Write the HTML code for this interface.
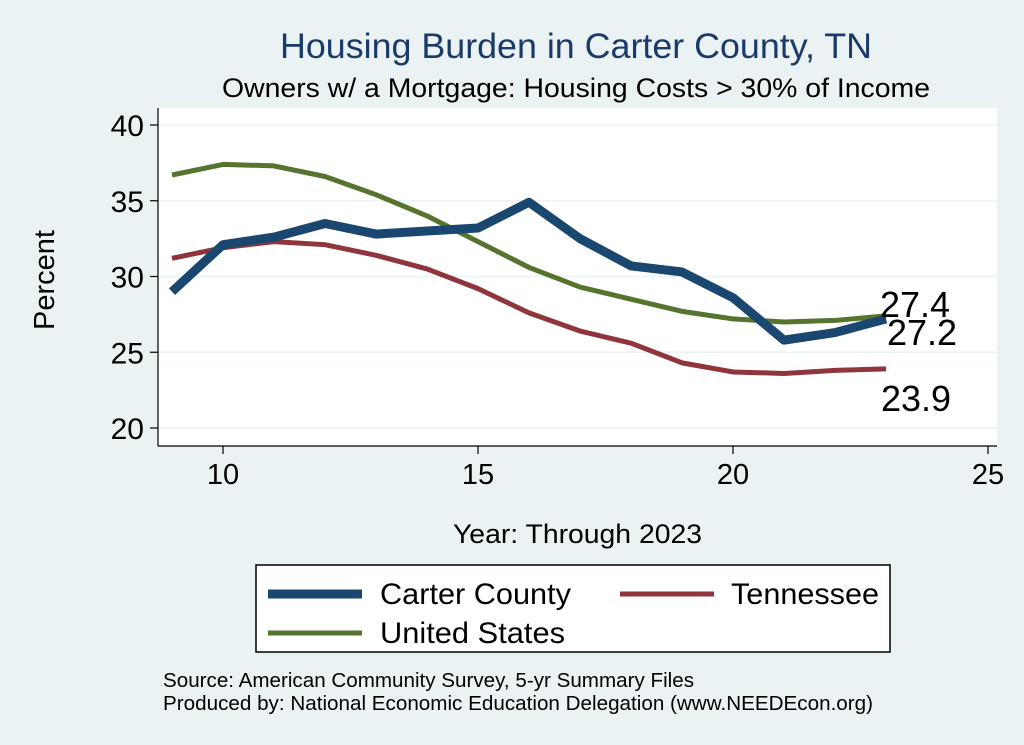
<!DOCTYPE html>
<html><head><meta charset="utf-8"><style>
body{margin:0;background:#eaf2f3;}
svg{display:block;font-family:"Liberation Sans",Arial,sans-serif;}
</style></head><body>
<svg id="chart" width="1024" height="745" viewBox="0 0 1024 745">
<rect x="0" y="0" width="1024" height="745" fill="#eaf2f3"/>
<rect x="158" y="108" width="839" height="338" fill="#ffffff"/>
<text x="280" y="58" font-size="35" textLength="592" lengthAdjust="spacingAndGlyphs" fill="#1a3b6a">Housing Burden in Carter County, TN</text>
<text x="222" y="97" font-size="27" textLength="708" lengthAdjust="spacingAndGlyphs" fill="#000">Owners w/ a Mortgage: Housing Costs &gt; 30% of Income</text>
<g id="grid"></g><g id="axes"></g><g id="series"></g><g id="labels"></g>
<text x="54" y="280" text-anchor="middle" font-size="29" transform="rotate(-90 54 280)">Percent</text>
<text x="453" y="543" font-size="27" textLength="249" lengthAdjust="spacingAndGlyphs">Year: Through 2023</text>
<g>
<rect x="256" y="565" width="634" height="87" fill="#fff" stroke="#000" stroke-width="1.5"/>
<line x1="268" y1="594" x2="362" y2="594" stroke="#1a476f" stroke-width="9"/>
<text x="380" y="604" font-size="30" textLength="191" lengthAdjust="spacingAndGlyphs">Carter County</text>
<line x1="620" y1="594" x2="714" y2="594" stroke="#90353b" stroke-width="5"/>
<text x="731" y="604" font-size="30" textLength="148" lengthAdjust="spacingAndGlyphs">Tennessee</text>
<line x1="268" y1="633" x2="362" y2="633" stroke="#55752f" stroke-width="5"/>
<text x="380" y="643" font-size="30" textLength="185" lengthAdjust="spacingAndGlyphs">United States</text>
</g>
<text x="163" y="687" font-size="20" textLength="531" lengthAdjust="spacingAndGlyphs">Source: American Community Survey, 5-yr Summary Files</text>
<text x="163" y="710" font-size="20" textLength="710" lengthAdjust="spacingAndGlyphs">Produced by: National Economic Education Delegation (www.NEEDEcon.org)</text>
</svg>
<script>
const years=[9,10,11,12,13,14,15,16,17,18,19,20,21,22,23];
const carter=[29.0,32.1,32.6,33.5,32.8,33.0,33.2,34.9,32.5,30.7,30.3,28.6,25.8,26.3,27.2];
const tennessee=[31.2,31.9,32.3,32.1,31.4,30.5,29.2,27.6,26.4,25.6,24.3,23.7,23.6,23.8,23.9];
const us=[36.7,37.4,37.3,36.6,35.4,34.0,32.3,30.6,29.3,28.5,27.7,27.2,27.0,27.1,27.4];
const xTicks=[10,15,20,25];
const yTicks=[20,25,30,35,40];
const NS="http://www.w3.org/2000/svg";
function xs(v){return 223+(v-10)*51;}
function ys(v){return 428-(v-20)*15.15;}
function mk(tag,attrs,parent){const e=document.createElementNS(NS,tag);for(const k in attrs)e.setAttribute(k,attrs[k]);document.getElementById(parent).appendChild(e);return e;}
yTicks.forEach(t=>{
 const g=mk('line',{x1:158,x2:997,y1:ys(t),y2:ys(t),stroke:'#eaf2f3','stroke-width':1.5},'grid');
 
 
 const tk=mk('line',{x1:150,x2:158,y1:ys(t),y2:ys(t),stroke:'#000','stroke-width':1.2},'axes');
 
 
 const tl=mk('text',{x:144,y:ys(t)+11,'text-anchor':'end','font-size':30},'axes');
 tl.textContent=t;
 
 
});
xTicks.forEach(t=>{
 const tk=mk('line',{x1:xs(t),x2:xs(t),y1:446,y2:454,stroke:'#000','stroke-width':1.2},'axes');
 
 
 const tl=mk('text',{x:xs(t),y:484,'text-anchor':'middle','font-size':29},'axes');
 tl.textContent=t;
 
 
});
const ya=mk('line',{x1:158,x2:158,y1:108,y2:446,stroke:'#000','stroke-width':1.2},'axes');


const xa=mk('line',{x1:158,x2:997,y1:446,y2:446,stroke:'#000','stroke-width':1.2},'axes');


function line(vals,color,w,name){
 const p=mk('polyline',{points:vals.map((v,i)=>xs(years[i])+','+ys(v)).join(' '),fill:'none',stroke:color,'stroke-width':w,'stroke-linejoin':'round'},'series');
 
 
}
line(tennessee,'#90353b',5,'line-tennessee');
line(us,'#55752f',5,'line-us');
line(carter,'#1a476f',9,'line-carter');
const n=years.length-1,lx=xs(years[n]);
const l1=mk('text',{x:lx-6,y:ys(us[n])+1,'font-size':36},'labels');l1.textContent=us[n].toFixed(1);


const l2=mk('text',{x:lx+1,y:ys(carter[n])+26,'font-size':36},'labels');l2.textContent=carter[n].toFixed(1);


const l3=mk('text',{x:lx-5,y:ys(tennessee[n])+42,'font-size':36},'labels');l3.textContent=tennessee[n].toFixed(1);


</script>
</body></html>
